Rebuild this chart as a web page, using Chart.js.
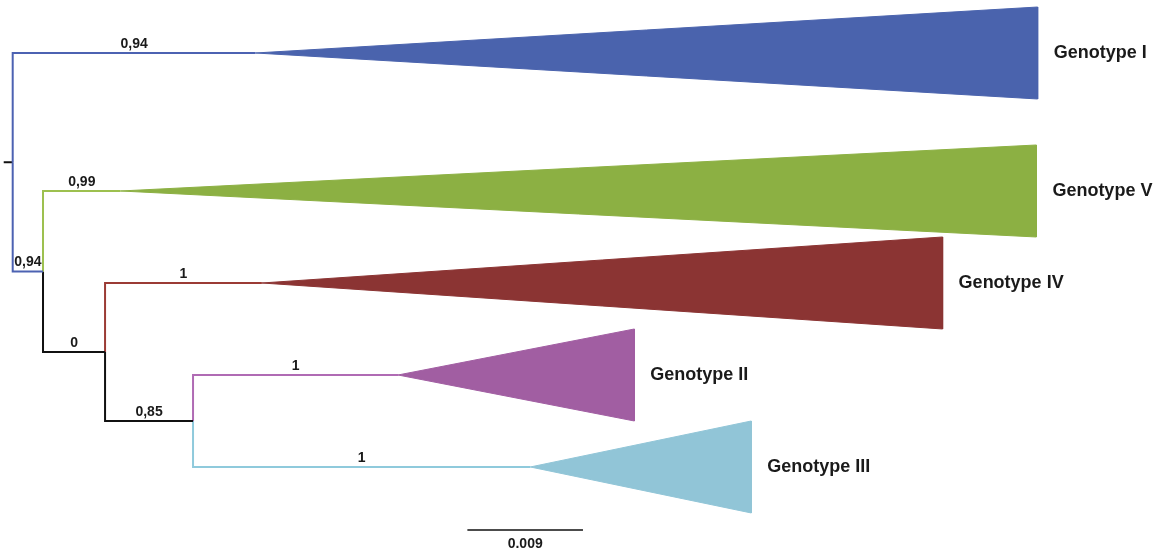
<!DOCTYPE html>
<html>
<head>
<meta charset="utf-8">
<script src="https://cdn.jsdelivr.net/npm/chart.js@4"></script>
<style>
  body { margin: 0; background: #fff; }
  #wrap { width: 1167px; height: 553px; }
</style>
</head>
<body>
<div id="wrap"><canvas id="tree" width="1167" height="553"></canvas></div>
<script>
// --------- Tree data --------

// collapsed clades (tips)
const clades = ['Genotype I', 'Genotype V', 'Genotype IV', 'Genotype II', 'Genotype III'];
const cladeRow = [0.5, 2, 3, 4, 5];                               // vertical order of the clades
const cladeStart = [0.0189, 0.0084, 0.0194, 0.0300, 0.0403];      // depth where the triangle begins
const cladeEnd = [0.0798, 0.0797, 0.0724, 0.0484, 0.0575];        // depth of the deepest member
const cladeSupport = ['0,94', '0,99', '1', '1', '1'];

// internal nodes
const nodes = ['root', 'B', 'C', 'D'];
const nodeDepth = [0, 0.00236, 0.00719, 0.01404];
const nodeSupport = [null, '0,94', '0', '0,85'];

// edges parent -> child
const edgeParent = ['root', 'root', 'B', 'B', 'C', 'C', 'D', 'D'];
const edgeChild = ['Genotype I', 'B', 'Genotype V', 'C', 'Genotype IV', 'D', 'Genotype II', 'Genotype III'];

// scale bar
const scaleBarLength = 0.009;
const scaleBarLabel = '0.009';

// colours
const fillColors = ['#4a63ad', '#8cb043', '#8b3433', '#a15ea2', '#91c5d7'];
const edgeColors = ['#4c62b2', '#4c62b2', '#9dc04f', '#111111', '#9b3b35', '#111111', '#b06bb4', '#8fcadc'];

// --------- Layout helpers --------

const depthOf = {};
const rowOf = {};
clades.forEach((c, i) => { depthOf[c] = cladeStart[i]; rowOf[c] = cladeRow[i]; });
nodes.forEach((n, i) => { depthOf[n] = nodeDepth[i]; });

// internal node row = midpoint of its children
const rowFor = (name) => {
    if (rowOf[name] !== undefined) return rowOf[name];
    const kids = edgeChild.filter((c, i) => edgeParent[i] === name);
    const r = kids.map(rowFor);
    rowOf[name] = (Math.min(...r) + Math.max(...r)) / 2;
    return rowOf[name];
};
nodes.forEach(rowFor);

const datasets = [];

// branches (elbows)
edgeChild.forEach((child, i) => {
    const p = edgeParent[i];
    datasets.push({
        data: [
            { x: depthOf[p], y: rowOf[p] },
            { x: depthOf[p], y: rowOf[child] },
            { x: depthOf[child], y: rowOf[child] }
        ],
        showLine: true,
        borderColor: edgeColors[i],
        borderWidth: 2,
        pointRadius: 0,
        borderJoinStyle: 'miter',
        fill: false
    });
});

// root stub
datasets.push({
    data: [{ x: -0.0007, y: rowOf.root }, { x: 0, y: rowOf.root }],
    showLine: true, borderColor: '#111', borderWidth: 2, pointRadius: 0, fill: false
});

// collapsed clade triangles
clades.forEach((c, i) => {
    datasets.push({
        data: [
            { x: cladeStart[i], y: cladeRow[i] },
            { x: cladeEnd[i], y: cladeRow[i] - 0.5 },
            { x: cladeEnd[i], y: cladeRow[i] + 0.5 },
            { x: cladeStart[i], y: cladeRow[i] }
        ],
        showLine: true,
        borderColor: fillColors[i],
        backgroundColor: fillColors[i],
        borderWidth: 1,
        pointRadius: 0,
        fill: 'shape'
    });
});

// scale bar
const barRow = 5.685;
const barStart = 0.0354;
datasets.push({
    data: [{ x: barStart, y: barRow }, { x: barStart + scaleBarLength, y: barRow }],
    showLine: true, borderColor: '#111', borderWidth: 1.5, pointRadius: 0, fill: false
});

// --------- Labels plugin --------

const labelPlugin = {
    id: 'treeLabels',
    afterDatasetsDraw(chart) {
        const { ctx } = chart;
        const xs = chart.scales.x;
        const ys = chart.scales.y;
        ctx.save();
        ctx.fillStyle = '#1a1a1a';

        // support values above each branch
        ctx.font = 'bold 14px "Liberation Sans", Arial, sans-serif';
        ctx.textAlign = 'center';
        ctx.textBaseline = 'bottom';
        edgeChild.forEach((child, i) => {
            const ci = clades.indexOf(child);
            const label = ci >= 0 ? cladeSupport[ci] : nodeSupport[nodes.indexOf(child)];
            if (label === null) return;
            const p = edgeParent[i];
            const x = (xs.getPixelForValue(depthOf[p]) + xs.getPixelForValue(depthOf[child])) / 2;
            const y = ys.getPixelForValue(rowOf[child]) - 2;
            ctx.fillText(label, x, y);
        });

        // clade names
        ctx.font = 'bold 18px "Liberation Sans", Arial, sans-serif';
        ctx.textAlign = 'left';
        ctx.textBaseline = 'middle';
        clades.forEach((c, i) => {
            ctx.fillText(c, xs.getPixelForValue(cladeEnd[i]) + 16, ys.getPixelForValue(cladeRow[i]));
        });

        // scale bar label
        ctx.font = 'bold 14px "Liberation Sans", Arial, sans-serif';
        ctx.textAlign = 'center';
        ctx.textBaseline = 'top';
        ctx.fillText(scaleBarLabel,
            xs.getPixelForValue(barStart + scaleBarLength / 2),
            ys.getPixelForValue(barRow) + 7);
        ctx.restore();
    }
};

// --------- Chart --------

const ctxTree = document.getElementById('tree').getContext('2d');
const treeChart = new Chart(ctxTree, {
    type: 'scatter',
    data: { datasets: datasets },
    options: {
        responsive: false,
        animation: false,
        layout: { padding: 0 },
        plugins: {
            legend: { display: false },
            tooltip: { enabled: false }
        },
        scales: {
            x: { type: 'linear', display: false, min: -0.000989, max: 0.08987 },
            y: { type: 'linear', display: false, min: -0.0761, max: 5.935, reverse: true }
        }
    },
    plugins: [labelPlugin]
});
</script>
</body>
</html>
